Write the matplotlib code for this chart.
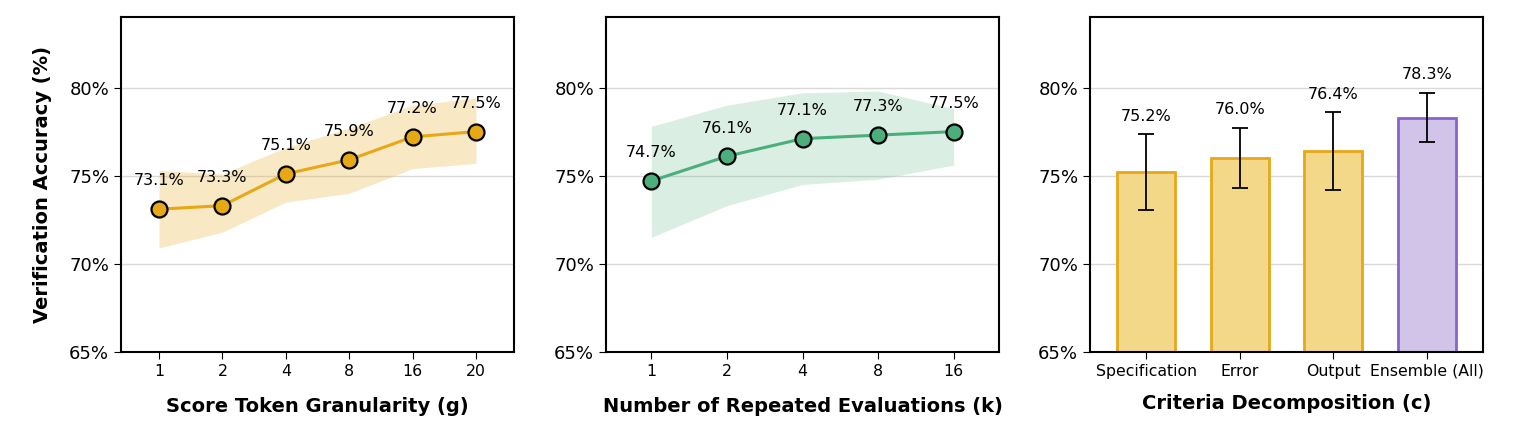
import matplotlib.pyplot as plt

# Data
g_labels = ['1', '2', '4', '8', '16', '20']
g_acc = [73.1, 73.3, 75.1, 75.9, 77.2, 77.5]
g_low = [70.9, 71.8, 73.5, 74.0, 75.4, 75.7]
g_high = [75.3, 75.1, 76.6, 77.7, 79.0, 79.4]

k_labels = ['1', '2', '4', '8', '16']
k_acc = [74.7, 76.1, 77.1, 77.3, 77.5]
k_low = [71.5, 73.3, 74.5, 74.8, 75.6]
k_high = [77.8, 79.0, 79.7, 79.8, 78.8]

c_labels = ['Specification', 'Error', 'Output', 'Ensemble (All)']
c_acc = [75.2, 76.0, 76.4, 78.3]
c_err = [2.15, 1.7, 2.2, 1.4]

orange = '#E6A817'
green = '#4BAE7B'
purple = '#8A63C9'

fig = plt.figure(figsize=(15.14, 4.46), dpi=100)
W, H = 1514, 446
axes = [fig.add_axes([x0 / W, (H - 352) / H, 393 / W, 335 / H]) for x0 in (121, 606, 1090)]


def style(ax):
    ax.set_ylim(65, 84)
    ax.set_yticks([65, 70, 75, 80])
    ax.set_yticklabels(['65%', '70%', '75%', '80%'], fontsize=13)
    ax.grid(axis='y', color='#d9d9d9', linewidth=1)
    ax.set_axisbelow(True)
    for s in ax.spines.values():
        s.set_linewidth(1.5)
    ax.tick_params(axis='x', labelsize=11.3, length=5)
    ax.tick_params(axis='y', length=5)


# Panel 1: score token granularity
ax = axes[0]
x = list(range(len(g_labels)))
ax.fill_between(x, g_low, g_high, color=orange, alpha=0.25, linewidth=0)
ax.plot(x, g_acc, color=orange, linewidth=2.2, marker='o', markersize=11.5,
        markerfacecolor=orange, markeredgecolor='black', markeredgewidth=1.6)
for xi, v in zip(x, g_acc):
    ax.text(xi, v + 1.6, f'{v:.1f}%', ha='center', va='center', fontsize=11.5)
ax.set_xticks(x)
ax.set_xticklabels(g_labels)
ax.set_xlim(-0.6, len(x) - 0.4)
style(ax)
ax.set_xlabel('Score Token Granularity (g)', fontsize=14, fontweight='bold', labelpad=13)
ax.set_ylabel('Verification Accuracy (%)', fontsize=14, fontweight='bold', labelpad=12)

# Panel 2: repeated evaluations
ax = axes[1]
x = list(range(len(k_labels)))
ax.fill_between(x, k_low, k_high, color=green, alpha=0.2, linewidth=0)
ax.plot(x, k_acc, color=green, linewidth=2.2, marker='o', markersize=11.5,
        markerfacecolor=green, markeredgecolor='black', markeredgewidth=1.6)
for xi, v in zip(x, k_acc):
    ax.text(xi, v + 1.6, f'{v:.1f}%', ha='center', va='center', fontsize=11.5)
ax.set_xticks(x)
ax.set_xticklabels(k_labels)
ax.set_xlim(-0.6, len(x) - 0.4)
style(ax)
ax.set_xlabel('Number of Repeated Evaluations (k)', fontsize=14, fontweight='bold', labelpad=13)

# Panel 3: criteria decomposition
ax = axes[2]
x = list(range(len(c_labels)))
fills = ['#F3D88A', '#F3D88A', '#F3D88A', '#D1C4E8']
edges = [orange, orange, orange, purple]
ax.bar(x, c_acc, width=0.62, color=fills, edgecolor=edges, linewidth=2,
       yerr=c_err, capsize=6, error_kw=dict(ecolor='black', elinewidth=1.3, capthick=1.3))
for xi, v, e in zip(x, c_acc, c_err):
    ax.text(xi, v + e + 0.6, f'{v:.1f}%', ha='center', va='bottom', fontsize=11.5)
ax.set_xticks(x)
ax.set_xticklabels(c_labels)
ax.set_xlim(-0.6, len(x) - 0.4)
style(ax)
ax.set_xlabel('Criteria Decomposition (c)', fontsize=14, fontweight='bold', labelpad=11)

fig.savefig('out.png', dpi=100)
